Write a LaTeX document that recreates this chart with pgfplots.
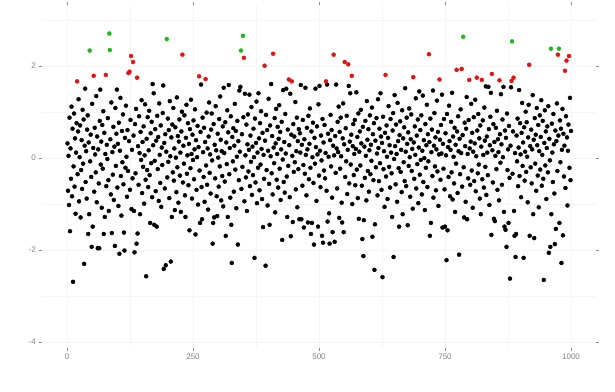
\documentclass[border=0pt]{standalone}
\usepackage{fontspec}
\setmainfont{Liberation Sans}
\usepackage{pgfplots}
\usepackage{pgfplotstable}
\pgfplotsset{compat=1.18}
\definecolor{ptred}{RGB}{228,18,18}
\definecolor{ptgreen}{RGB}{28,186,28}
\pgfplotstableread[header=false]{
1 0.32
2 -0.71
3 0.05
4 -1.02
5 0.88
6 -1.59
7 0.21
8 -0.45
9 1.12
10 -0.83
11 0.64
12 -2.69
13 -0.18
14 0.97
15 -0.62
16 0.43
17 -1.21
18 0.12
19 0.76
20 1.67
21 -0.35
22 0.58
23 1.28
24 -0.94
25 0.02
26 0.71
27 -1.29
28 -0.26
29 0.39
30 -0.67
31 1.05
32 -0.12
33 0.84
34 -2.30
35 0.27
36 1.51
37 -0.52
38 0.15
39 -0.88
40 0.62
41 0.93
42 -1.65
43 0.34
44 -1.22
45 2.34
46 -0.07
47 0.51
48 -0.41
49 -1.93
50 1.18
51 -1.49
52 0.22
53 1.79
54 -0.73
55 0.66
56 0.08
57 -0.31
58 1.35
59 -0.96
60 0.47
61 -1.96
62 0.19
63 -0.55
64 -1.96
65 0.81
66 1.49
67 -0.14
68 0.36
69 -1.08
70 0.72
71 -0.23
72 1.02
73 -1.65
74 0.55
75 -1.28
76 0.09
77 1.81
78 -0.61
79 0.29
80 -0.02
81 0.87
82 -0.48
83 -1.15
84 2.71
85 2.35
86 0.41
87 -0.79
88 1.21
89 -1.63
90 0.13
91 -0.36
92 0.68
93 -0.91
94 0.25
95 -1.91
96 1.09
97 -0.17
98 0.53
99 1.49
100 -0.64
101 0.31
102 -1.04
103 0.77
104 -2.08
105 0.16
106 1.31
107 -0.39
108 -1.25
109 0.59
110 -0.09
111 0.95
112 -0.57
113 -1.62
114 -2.01
115 0.44
116 -0.21
117 1.14
118 0.03
119 -0.84
120 0.61
121 -0.28
122 1.85
123 0.37
124 1.88
125 -0.69
126 0.83
127 2.22
128 -1.11
129 0.18
130 -0.44
131 2.09
132 0.49
133 -1.15
134 -2.05
135 0.74
136 -0.33
137 1.07
138 -1.86
139 1.75
140 -1.64
141 0.26
142 -0.58
143 0.91
144 0.11
145 -1.22
146 0.57
147 -0.04
148 1.26
149 -0.76
150 0.35
151 -0.19
152 0.69
153 -0.99
154 0.06
155 1.17
156 -0.47
157 -2.57
158 0.42
159 -0.26
160 0.89
161 -0.63
162 0.17
163 1.03
164 -0.37
165 -1.41
166 0.54
167 -0.11
168 0.79
169 -0.85
170 1.61
171 0.28
172 1.41
173 -1.45
174 -0.06
175 0.63
176 -0.72
177 0.38
178 -1.49
179 0.92
180 -0.24
181 0.46
182 -0.93
183 1.19
184 0.07
185 -0.54
186 0.71
187 -1.06
188 0.23
189 -0.15
190 0.98
191 1.58
192 -2.41
193 0.33
194 -0.66
195 0.52
196 -2.33
197 0.14
198 2.59
199 -0.42
200 0.86
201 -0.08
202 0.61
203 -0.87
204 1.24
205 0.04
206 -2.25
207 0.45
208 -1.28
209 0.73
210 -0.31
211 1.09
212 -0.49
213 0.21
214 -1.13
215 0.67
216 0.01
217 -0.74
218 1.32
219 -0.20
220 0.48
221 -0.97
222 0.36
223 0.84
224 -0.38
225 0.12
226 -1.17
227 0.58
228 1.01
229 2.25
230 -0.53
231 0.27
232 -0.12
233 0.93
234 -0.81
235 -1.28
236 0.44
237 1.16
238 -0.34
239 0.06
240 0.76
241 -0.59
242 0.31
243 -1.57
244 0.63
245 -0.22
246 1.27
247 0.09
248 -0.88
249 0.51
250 -0.04
251 0.82
252 -0.46
253 0.19
254 1.06
255 -1.66
256 0.39
257 -0.69
258 0.02
259 0.70
260 -1.01
261 0.24
262 1.78
263 -0.27
264 -1.41
265 0.57
266 1.60
267 -0.63
268 -1.33
269 0.88
270 0.13
271 -0.41
272 0.66
273 -0.95
274 0.35
275 1.72
276 -0.16
277 0.99
278 -0.58
279 0.21
280 -1.12
281 0.47
282 1.21
283 -0.32
284 0.08
285 -0.77
286 0.62
287 0.97
288 -0.05
289 -1.86
290 -1.41
291 0.74
292 -1.29
293 0.29
294 -0.44
295 1.13
296 0.17
297 -0.83
298 -1.26
299 0.53
300 0.01
301 -0.62
302 0.85
303 -0.18
304 1.34
305 0.40
306 -0.92
307 0.15
308 -0.39
309 0.69
310 -1.05
311 1.53
312 0.11
313 -0.51
314 0.78
315 -1.69
316 0.34
317 -0.13
318 1.04
319 -1.28
320 0.56
321 1.59
322 -0.35
323 0.22
324 -0.86
325 0.91
326 -1.45
327 -2.28
328 0.46
329 -0.07
330 0.65
331 -0.73
332 0.27
333 1.18
334 -0.25
335 0.59
336 -1.09
337 0.03
338 0.81
339 -1.88
340 0.37
341 -0.48
342 1.47
343 0.14
344 1.55
345 2.34
346 -0.67
347 0.52
348 -0.19
349 2.66
350 0.89
351 2.18
352 -0.94
353 1.40
354 0.06
355 -0.42
356 0.73
357 -1.15
358 0.30
359 0.95
360 -0.29
361 0.18
362 1.38
363 -0.61
364 0.49
365 -0.08
366 1.11
367 -0.80
368 0.25
369 -0.37
370 0.64
371 0.02
372 -2.17
373 0.86
374 -0.53
375 0.33
376 1.23
377 -0.98
378 0.12
379 -0.21
380 1.41
381 0.43
382 -0.70
383 0.76
384 -0.14
385 1.02
386 0.20
387 -0.89
388 0.55
389 -1.50
390 0.07
391 -0.45
392 2.01
393 0.38
394 -2.34
395 0.94
396 -0.26
397 0.61
398 -1.03
399 0.16
400 1.29
401 -0.56
402 -1.45
403 0.71
404 0.04
405 1.61
406 -0.33
407 0.48
408 -0.79
409 2.27
410 0.23
411 -0.11
412 0.87
413 -1.18
414 0.32
415 1.07
416 -0.47
417 0.09
418 0.68
419 -0.64
420 0.42
421 1.15
422 -0.23
423 0.57
424 -0.91
425 0.19
426 0.79
427 -1.78
428 -0.03
429 1.48
430 -0.52
431 0.35
432 -0.75
433 0.96
434 0.10
435 1.51
436 -0.40
437 -1.28
438 0.62
439 -0.17
440 1.71
441 0.28
442 -0.85
443 1.40
444 -1.70
445 0.51
446 1.67
447 0.05
448 -1.39
449 0.74
450 -0.30
451 0.47
452 -0.09
453 1.22
454 -0.68
455 0.15
456 0.88
457 -1.07
458 0.37
459 -0.24
460 0.63
461 -1.33
462 0.54
463 0.12
464 1.59
465 -1.33
466 0.29
467 -0.60
468 0.83
469 -0.15
470 -1.51
471 0.41
472 -0.34
473 1.53
474 0.07
475 -0.81
476 0.66
477 0.19
478 -1.40
479 0.92
480 -0.46
481 0.31
482 1.08
483 -0.21
484 -1.65
485 0.58
486 -1.41
487 0.02
488 0.77
489 -0.54
490 -1.88
491 0.44
492 -0.12
493 1.51
494 0.24
495 -0.93
496 0.69
497 0.08
498 -1.49
499 1.17
500 -0.38
501 1.57
502 0.16
503 -0.63
504 0.49
505 -0.05
506 -1.69
507 0.85
508 -1.84
509 0.34
510 -0.27
511 0.72
512 -0.44
513 0.11
514 1.67
515 -0.71
516 1.60
517 -1.38
518 0.53
519 0.03
520 -1.20
521 -1.86
522 0.39
523 0.94
524 -0.18
525 0.61
526 -0.86
527 -1.61
528 0.27
529 2.25
530 0.06
531 -1.82
532 0.48
533 -0.32
534 1.60
535 0.21
536 -0.66
537 0.79
538 0.13
539 1.12
540 -1.30
541 0.57
542 -0.23
543 0.88
544 0.04
545 -0.97
546 -1.40
547 0.43
548 1.19
549 -1.61
550 0.30
551 2.09
552 -0.41
553 0.65
554 -0.07
555 0.92
556 -0.78
557 0.18
558 2.04
559 1.57
560 -0.55
561 0.36
562 1.41
563 -0.14
564 0.51
565 1.79
566 -1.00
567 0.26
568 0.74
569 -0.37
570 0.09
571 0.83
572 -0.59
573 0.20
574 1.43
575 -0.25
576 0.46
577 -0.87
578 0.97
579 -1.32
580 0.14
581 0.58
582 -0.16
583 1.05
584 0.32
585 -0.60
586 -1.76
587 0.68
588 -2.13
589 -1.35
590 0.25
591 -0.43
592 0.81
593 0.05
594 -0.92
595 1.24
596 0.40
597 -0.28
598 0.63
599 -0.73
600 0.17
601 0.93
602 -0.35
603 0.29
604 -0.06
605 1.10
606 -1.71
607 0.52
608 -0.48
609 0.76
610 -2.43
611 -1.44
612 0.38
613 -0.20
614 0.87
615 0.10
616 -0.81
617 1.28
618 0.22
619 -0.50
620 0.64
621 -0.11
622 1.41
623 0.47
624 -0.69
625 0.33
626 -2.59
627 0.90
628 -0.24
629 0.15
630 -1.06
631 0.55
632 1.81
633 -0.40
634 0.71
635 0.03
636 -0.89
637 0.44
638 1.13
639 -0.19
640 0.28
641 -0.64
642 0.85
643 0.12
644 -0.33
645 -1.28
646 0.60
647 0.98
648 -2.15
649 -0.02
650 1.37
651 0.26
652 -0.57
653 0.73
654 0.09
655 -0.95
656 1.20
657 0.37
658 -0.22
659 -1.49
660 0.50
661 0.80
662 -0.30
663 0.18
664 -0.74
665 1.04
666 -1.22
667 0.43
668 -0.09
669 0.67
670 -0.50
671 1.52
672 0.14
673 -0.61
674 0.88
675 0.31
676 -1.46
677 0.56
678 -0.17
679 1.08
680 0.02
681 -0.84
682 0.41
683 0.95
684 -0.28
685 0.20
686 -1.10
687 1.76
688 0.34
689 -0.45
690 0.69
691 0.07
692 1.30
693 -0.66
694 0.49
695 -0.13
696 0.84
697 -0.98
698 0.23
699 1.45
700 -0.36
701 0.61
702 -0.04
703 0.93
704 -0.79
705 0.16
706 1.36
707 -0.52
708 0.39
709 0.00
710 -1.13
711 0.74
712 -0.21
713 0.28
714 1.16
715 -0.63
716 0.52
717 -0.07
718 2.26
719 0.35
720 -1.69
721 0.86
722 -1.41
723 0.13
724 0.62
725 -0.39
726 1.47
727 -0.86
728 0.27
729 0.98
730 -0.18
731 0.45
732 -0.70
733 0.19
734 1.25
735 -0.29
736 0.57
737 -1.04
738 0.08
739 1.71
740 0.40
741 -0.47
742 0.72
743 0.10
744 1.38
745 -1.51
746 0.31
747 -0.23
748 0.85
749 -0.68
750 -1.49
751 0.54
752 0.06
753 -2.22
754 0.96
755 -1.57
756 0.24
757 -0.41
758 1.14
759 0.37
760 -0.83
761 0.18
762 0.79
763 -0.31
764 1.42
765 -0.90
766 0.47
767 0.03
768 -0.55
769 0.66
770 -1.17
771 0.29
772 -0.12
773 1.92
774 0.58
775 -0.76
776 0.91
777 0.15
778 -2.10
779 0.42
780 -0.35
781 1.06
782 0.11
783 1.94
784 -0.62
785 0.50
786 2.64
787 -0.20
788 -1.29
789 0.77
790 0.26
791 -0.95
792 0.64
793 1.33
794 -1.33
795 0.09
796 -0.44
797 0.83
798 1.70
799 0.21
800 -0.58
801 0.36
802 1.18
803 -0.27
804 0.55
805 -1.08
806 0.14
807 0.89
808 -0.50
809 0.32
810 1.27
811 -0.72
812 0.04
813 1.75
814 0.60
815 -0.33
816 0.96
817 -0.14
818 0.43
819 -0.88
820 0.71
821 -1.22
822 0.25
823 1.70
824 -0.46
825 0.82
826 0.07
827 -0.64
828 1.10
829 0.38
830 -0.19
831 1.56
832 -0.80
833 0.47
834 0.12
835 -0.37
836 1.55
837 0.63
838 -1.02
839 0.28
840 0.90
841 1.42
842 -1.67
843 1.83
844 0.17
845 -0.53
846 0.74
847 -1.32
848 0.35
849 -1.37
850 0.05
851 0.66
852 -0.24
853 1.03
854 -0.69
855 0.41
856 0.13
857 -0.92
858 1.69
859 0.52
860 -0.10
861 1.39
862 0.30
863 -0.58
864 0.84
865 0.02
866 1.55
867 -1.17
868 -1.49
869 0.60
870 -1.56
871 0.44
872 -1.93
873 0.97
874 -0.26
875 0.19
876 -1.41
877 0.70
878 -0.43
879 -2.62
880 0.27
881 1.54
882 1.68
883 2.54
884 -0.34
885 0.58
886 1.75
887 -1.15
888 -1.69
889 0.11
890 -2.15
891 -1.65
892 0.49
893 -0.07
894 0.86
895 -0.61
896 0.23
897 1.48
898 -0.39
899 0.76
900 0.08
901 -0.85
902 0.55
903 1.20
904 -0.17
905 0.34
906 -2.17
907 0.67
908 -0.49
909 0.14
910 1.01
911 -0.30
912 0.78
913 0.03
914 -0.96
915 0.45
916 1.16
917 2.03
918 -1.69
919 0.26
920 -0.20
921 0.62
922 -0.55
923 0.19
924 1.37
925 -1.22
926 0.40
927 -1.74
928 0.87
929 -0.12
930 0.51
931 -0.71
932 1.09
933 0.28
934 -0.38
935 0.72
936 -1.07
937 0.15
938 0.93
939 -0.25
940 0.46
941 1.26
942 -0.60
943 0.07
944 0.81
945 -0.45
946 -2.65
947 0.33
948 1.04
949 -0.16
950 0.58
951 -0.89
952 0.22
953 0.69
954 -0.31
955 1.13
956 -2.06
957 0.42
958 -0.05
959 -1.93
960 2.38
961 -1.22
962 0.75
963 0.12
964 -0.52
965 0.96
966 0.30
967 -0.77
968 -1.87
969 0.60
970 -1.54
971 0.37
972 1.19
973 -0.28
974 2.25
975 0.49
976 2.38
977 -1.41
978 0.82
979 -0.09
980 0.64
981 -2.28
982 0.18
983 1.07
984 -1.68
985 0.53
986 -0.40
987 0.27
988 1.90
989 -0.65
990 0.91
991 2.12
992 0.45
993 -1.03
994 0.16
995 0.73
996 2.22
997 -0.21
998 1.31
999 -0.48
1000 0.59
}\pts
\begin{document}
\begin{tikzpicture}
\path[use as bounding box] (0,0) rectangle (615pt,391pt);
\begin{axis}[
  at={(42.3pt,43pt)}, anchor=south west,
  scale only axis, width=553.9pt, height=343pt,
  xmin=-49, xmax=1050, ymin=-4.13, ymax=3.33,
  xtick={0,250,500,750,1000}, xticklabels={0,250,500,750,1000},
  ytick={-4,-2,0,2}, yticklabels={-4,-2,0,2},
  minor xtick={125,375,625,875}, minor ytick={-3,-1,1,3},
  grid=both,
  major grid style={draw=black!4, line width=0.5pt},
  minor grid style={draw=black!4, line width=0.5pt},
  axis line style={draw=none},
  tick align=outside, major tick length=3pt, minor tick length=0pt,
  major tick style={draw=black!45, line width=0.5pt},
  ticklabel style={font=\fontsize{8}{9}\selectfont, text=black!50},
  xticklabel style={yshift=1pt},
  clip=false,
]
\addplot[only marks, mark=*, mark size=2pt, draw=black, fill=black,
  restrict y to domain=-10:1.645] table[x index=0, y index=1] {\pts};
\addplot[only marks, mark=*, mark size=2pt, draw=ptred, fill=ptred,
  restrict y to domain=1.645:2.326] table[x index=0, y index=1] {\pts};
\addplot[only marks, mark=*, mark size=2pt, draw=ptgreen, fill=ptgreen,
  restrict y to domain=2.326:10] table[x index=0, y index=1] {\pts};
\end{axis}
\end{tikzpicture}
\end{document}
